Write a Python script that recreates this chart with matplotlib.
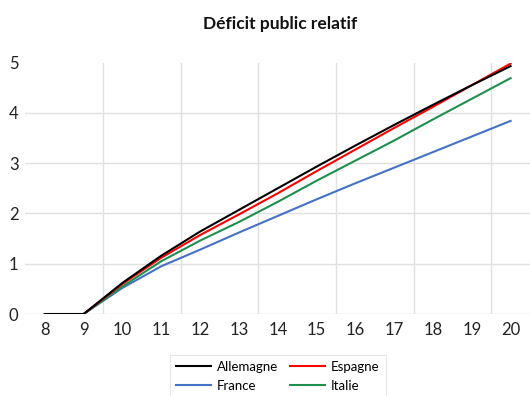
import matplotlib
matplotlib.use("Agg")
import matplotlib.pyplot as plt

categories = [8, 9, 10, 11, 12, 13, 14, 15, 16, 17, 18, 19, 20]
allemagne = [0, 0, 0.62, 1.16, 1.64, 2.07, 2.50, 2.93, 3.35, 3.76, 4.16, 4.55, 4.93]
espagne   = [0, 0, 0.60, 1.12, 1.57, 1.98, 2.40, 2.84, 3.27, 3.70, 4.12, 4.55, 4.98]
france    = [0, 0, 0.52, 0.95, 1.28, 1.62, 1.95, 2.28, 2.60, 2.91, 3.22, 3.53, 3.84]
italie    = [0, 0, 0.55, 1.05, 1.46, 1.83, 2.23, 2.65, 3.05, 3.45, 3.87, 4.28, 4.69]
yticks = [0, 1, 2, 3, 4, 5]
title = "Déficit public relatif"

plt.rcParams['font.family'] = ['Lato', 'DejaVu Sans']

fig = plt.figure(figsize=(5.30, 3.96), dpi=100)
ax = fig.add_axes([0.048, 0.207, 0.952, 0.635])

series = [("Allemagne", allemagne, "#000000"),
          ("Espagne", espagne, "#ff0000"),
          ("France", france, "#4472c4"),
          ("Italie", italie, "#1f8f4d")]

handles = {}
for name, vals, col in [series[2], series[3], series[1], series[0]]:
    h, = ax.plot(categories, vals, color=col, lw=1.5, solid_joinstyle='round', zorder=3)
    handles[name] = h

ax.set_xlim(7.5, 20.5)
ax.set_ylim(0, 5)
ax.set_xticks(categories)
ax.set_xticklabels([str(c) for c in categories])
ax.set_yticks(yticks)
ax.set_xticks([9.5, 11.5, 13.5, 15.5, 17.5, 19.5], minor=True)
ax.tick_params(axis='both', which='both', length=0, labelsize=12, colors='#222222')
ax.tick_params(axis='x', pad=6)
ax.tick_params(axis='y', pad=5)
ax.grid(axis='y', which='major', color='#e0e0e0', lw=1)
ax.grid(axis='x', which='minor', color='#e0e0e0', lw=1)
for gl in ax.yaxis.get_gridlines()[-1:]:
    gl.set_visible(False)
for s in ax.spines.values():
    s.set_visible(False)
ax.set_axisbelow(True)

fig.text(0.528, 0.94, title, ha='center', va='center', fontsize=12.5, fontweight='bold', color='#111111')

order = ["Allemagne", "France", "Espagne", "Italie"]
leg = fig.legend([handles[n] for n in order], order, loc='upper center',
                 bbox_to_anchor=(0.524, 0.104), ncol=2, fontsize=9.5,
                 frameon=True, fancybox=False, edgecolor='#e0e0e0',
                 handlelength=2.65, columnspacing=0.85, handletextpad=0.5,
                 labelspacing=0.55, borderpad=0.45, borderaxespad=0)
leg.get_frame().set_linewidth(0.8)

fig.savefig("out.png", dpi=100)
